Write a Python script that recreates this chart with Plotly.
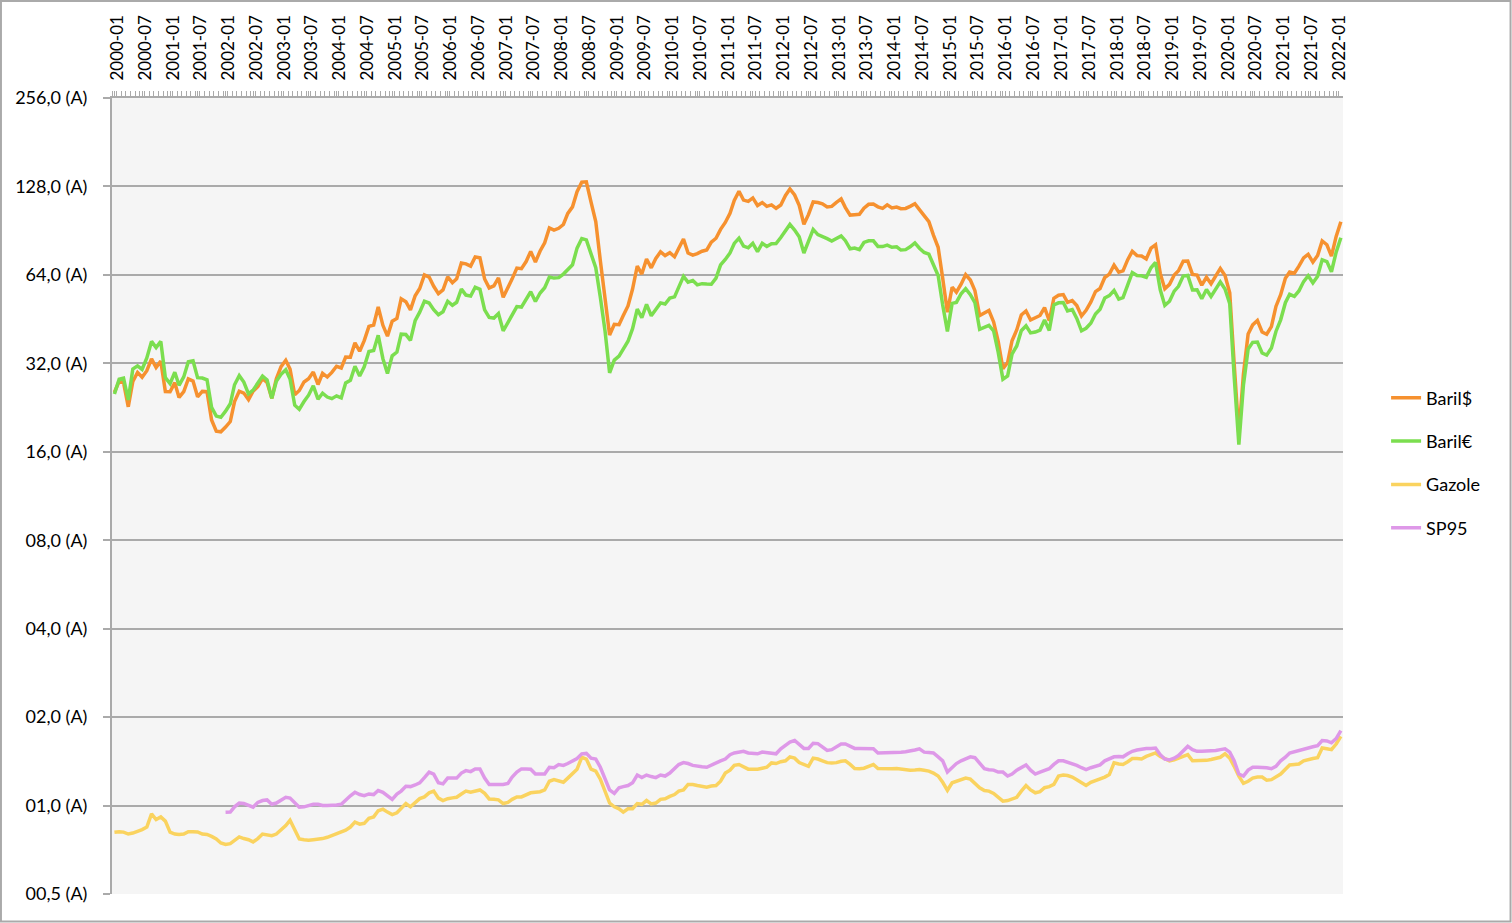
import pandas as pd
import plotly.graph_objects as go

# Monthly categories 2000-01 .. 2022-02
months = pd.date_range("2000-01-01", periods=266, freq="MS")

baril_usd = [
    25.51, 27.78, 27.49, 22.76, 27.74, 29.80, 28.68, 30.20, 33.14, 30.96, 32.55, 25.66,
    25.62, 27.50, 24.50, 25.66, 28.31, 27.85, 24.61, 25.68, 25.62, 20.54, 18.80, 18.71,
    19.42, 20.28, 23.70, 25.73, 25.35, 24.08, 25.74, 26.65, 28.40, 27.54, 24.34, 28.33,
    31.18, 32.77, 30.61, 25.00, 25.86, 27.65, 28.35, 29.89, 27.11, 29.61, 28.75, 29.81,
    31.28, 30.86, 33.63, 33.59, 37.57, 35.18, 38.22, 42.74, 43.20, 49.78, 43.11, 39.60,
    44.51, 45.48, 53.10, 51.88, 48.65, 54.35, 57.52, 63.98, 62.91, 58.54, 55.24, 56.86,
    62.99, 60.21, 62.06, 70.26, 69.78, 68.56, 73.67, 73.23, 61.96, 57.81, 58.76, 62.47,
    53.68, 57.56, 62.05, 67.49, 67.21, 71.05, 76.93, 70.76, 77.17, 82.34, 92.41, 90.93,
    92.18, 94.99, 103.64, 109.07, 122.80, 132.32, 132.72, 113.24, 97.23, 71.58, 52.45, 39.95,
    43.44, 43.32, 46.54, 50.18, 57.30, 68.61, 64.44, 72.51, 67.65, 72.77, 76.66, 74.46,
    76.17, 73.75, 78.83, 84.82, 75.95, 74.76, 75.58, 77.04, 77.84, 82.67, 85.28, 91.45,
    96.52, 103.72, 114.64, 123.26, 114.99, 113.83, 116.97, 110.22, 112.83, 109.55, 110.77, 107.87,
    110.69, 119.33, 125.45, 119.75, 110.34, 95.16, 102.62, 113.36, 112.86, 111.71, 109.06, 109.49,
    112.96, 116.05, 108.47, 102.25, 102.56, 102.92, 107.93, 111.28, 111.60, 109.08, 107.79, 110.76,
    108.12, 108.90, 107.48, 107.76, 109.54, 111.80, 106.77, 101.61, 97.09, 87.43, 79.44, 62.34,
    47.76, 58.10, 55.89, 59.52, 64.08, 61.48, 56.56, 46.52, 47.62, 48.43, 44.27, 38.01,
    30.70, 32.18, 38.21, 41.58, 46.74, 48.25, 44.95, 45.84, 46.57, 49.52, 44.73, 53.31,
    54.58, 54.87, 51.59, 52.31, 50.33, 46.37, 48.48, 51.70, 56.15, 57.51, 62.71, 64.37,
    69.08, 65.32, 66.02, 72.11, 76.98, 74.41, 74.25, 72.53, 78.89, 81.03, 64.75, 57.36,
    59.41, 63.96, 66.14, 71.23, 71.32, 64.22, 63.92, 59.04, 62.83, 59.71, 63.21, 67.31,
    63.65, 55.66, 32.01, 18.38, 29.38, 40.27, 43.24, 44.74, 40.91, 40.19, 42.69, 49.99,
    54.77, 62.28, 65.41, 64.81, 68.53, 73.16, 75.17, 70.75, 74.49, 83.54, 81.05, 74.17,
    86.51, 97.13,
]

baril_eur = [
    25.16, 28.25, 28.51, 24.03, 30.62, 31.39, 30.52, 33.40, 38.00, 36.20, 38.01, 28.60,
    27.30, 29.84, 26.94, 28.77, 32.38, 32.64, 28.59, 28.52, 28.12, 22.67, 21.16, 20.97,
    21.99, 23.31, 27.06, 29.05, 27.64, 25.20, 25.94, 27.26, 28.96, 28.07, 24.31, 27.82,
    29.35, 30.42, 28.32, 23.05, 22.33, 23.71, 24.93, 26.83, 24.16, 25.32, 24.57, 24.26,
    24.80, 24.40, 27.43, 28.03, 31.29, 28.98, 31.16, 35.10, 35.36, 39.86, 33.18, 29.53,
    33.93, 34.95, 40.22, 40.10, 38.33, 44.68, 47.79, 52.05, 51.33, 48.72, 46.87, 47.96,
    52.05, 50.44, 51.63, 57.26, 54.64, 54.20, 58.08, 57.16, 48.68, 45.84, 45.62, 47.28,
    41.30, 44.03, 46.86, 49.93, 49.74, 52.95, 56.09, 51.95, 55.53, 57.88, 62.93, 62.41,
    62.63, 64.41, 66.75, 69.25, 78.94, 85.08, 84.16, 75.62, 67.66, 53.73, 41.20, 29.70,
    32.81, 33.88, 35.66, 38.04, 41.98, 48.95, 45.74, 50.82, 46.46, 49.12, 51.40, 50.95,
    53.37, 53.89, 58.10, 63.27, 60.45, 61.23, 59.19, 59.75, 59.57, 59.48, 62.43, 69.18,
    72.25, 75.99, 81.89, 85.35, 80.14, 79.11, 82.00, 76.85, 81.94, 79.93, 81.71, 81.85,
    85.77, 90.24, 95.03, 90.98, 86.28, 75.97, 83.51, 91.42, 87.79, 86.10, 85.02, 83.46,
    85.01, 86.87, 83.67, 78.50, 79.00, 78.03, 82.52, 83.61, 83.61, 80.00, 79.89, 80.82,
    79.44, 79.73, 77.75, 78.01, 79.77, 82.25, 78.86, 76.31, 75.26, 68.99, 63.69, 50.55,
    41.10, 51.19, 51.57, 55.22, 57.47, 54.83, 51.44, 41.76, 42.44, 43.11, 41.24, 34.95,
    28.27, 29.01, 34.42, 36.67, 41.32, 42.97, 40.61, 40.88, 41.54, 44.91, 41.42, 50.56,
    51.42, 51.56, 48.28, 48.78, 45.51, 41.30, 42.12, 43.79, 47.13, 48.92, 53.42, 54.39,
    56.62, 52.90, 53.52, 58.74, 65.17, 63.72, 63.54, 62.80, 67.66, 70.56, 56.96, 50.39,
    52.04, 56.35, 58.52, 63.38, 63.76, 56.87, 56.98, 53.07, 57.10, 54.02, 57.20, 60.57,
    57.34, 51.04, 28.93, 16.92, 26.95, 35.78, 37.72, 37.83, 34.69, 34.13, 36.06, 41.08,
    45.00, 51.48, 54.97, 54.10, 56.42, 60.73, 63.58, 60.10, 63.29, 72.01, 71.01, 65.61,
    76.46, 85.64,
]

gazole = [
    0.811, 0.815, 0.812, 0.800, 0.806, 0.815, 0.828, 0.845, 0.937, 0.896, 0.915, 0.885,
    0.812, 0.800, 0.797, 0.800, 0.815, 0.815, 0.813, 0.800, 0.797, 0.785, 0.770, 0.746,
    0.737, 0.742, 0.760, 0.782, 0.772, 0.765, 0.752, 0.772, 0.800, 0.795, 0.790, 0.800,
    0.825, 0.855, 0.891, 0.830, 0.770, 0.765, 0.762, 0.765, 0.768, 0.772, 0.780, 0.790,
    0.800, 0.811, 0.825, 0.845, 0.878, 0.864, 0.870, 0.905, 0.915, 0.960, 0.972, 0.950,
    0.932, 0.945, 0.976, 1.016, 0.990, 1.020, 1.056, 1.070, 1.105, 1.120, 1.060, 1.040,
    1.055, 1.062, 1.067, 1.095, 1.120, 1.110, 1.120, 1.130, 1.100, 1.053, 1.050, 1.046,
    1.016, 1.025, 1.050, 1.070, 1.070, 1.090, 1.105, 1.110, 1.115, 1.130, 1.210, 1.225,
    1.210, 1.200, 1.240, 1.290, 1.330, 1.460, 1.440, 1.330, 1.310, 1.230, 1.120, 1.020,
    0.990, 0.975, 0.950, 0.975, 0.975, 1.016, 1.010, 1.040, 1.013, 1.020, 1.050, 1.055,
    1.075, 1.090, 1.120, 1.130, 1.180, 1.180, 1.170, 1.160, 1.155, 1.165, 1.170, 1.210,
    1.290, 1.320, 1.370, 1.379, 1.350, 1.330, 1.330, 1.330, 1.340, 1.350, 1.397, 1.390,
    1.410, 1.420, 1.465, 1.450, 1.400, 1.379, 1.360, 1.450, 1.440, 1.420, 1.400, 1.395,
    1.400, 1.415, 1.420, 1.380, 1.336, 1.335, 1.340, 1.360, 1.379, 1.336, 1.333, 1.335,
    1.335, 1.336, 1.330, 1.325, 1.320, 1.322, 1.326, 1.318, 1.310, 1.290, 1.260, 1.200,
    1.127, 1.195, 1.210, 1.225, 1.240, 1.230, 1.190, 1.150, 1.125, 1.120, 1.100, 1.070,
    1.035, 1.040, 1.050, 1.067, 1.120, 1.170, 1.130, 1.105, 1.115, 1.150, 1.160, 1.180,
    1.260, 1.270, 1.265, 1.250, 1.225, 1.200, 1.170, 1.200, 1.215, 1.230, 1.250, 1.275,
    1.397, 1.385, 1.380, 1.410, 1.446, 1.445, 1.440, 1.470, 1.490, 1.510, 1.470, 1.450,
    1.420, 1.430, 1.446, 1.470, 1.490, 1.420, 1.420, 1.420, 1.425, 1.435, 1.445, 1.460,
    1.500, 1.450, 1.360, 1.260, 1.190, 1.210, 1.240, 1.250, 1.250, 1.220, 1.225, 1.250,
    1.280, 1.330, 1.375, 1.380, 1.385, 1.420, 1.435, 1.446, 1.455, 1.570, 1.560, 1.550,
    1.620, 1.720,
]

sp95 = [
    None, None, None, None, None, None, None, None, None, None, None, None,
    None, None, None, None, None, None, None, None, None, None, None, None,
    0.949, 0.950, 0.990, 1.020, 1.017, 1.000, 0.987, 1.025, 1.040, 1.045, 1.010, 1.020,
    1.045, 1.067, 1.060, 1.020, 0.987, 0.990, 1.000, 1.010, 1.010, 1.000, 1.000, 1.000,
    1.005, 1.010, 1.045, 1.080, 1.110, 1.090, 1.080, 1.095, 1.090, 1.125, 1.110, 1.080,
    1.050, 1.095, 1.120, 1.163, 1.160, 1.175, 1.195, 1.245, 1.300, 1.280, 1.195, 1.185,
    1.240, 1.240, 1.240, 1.290, 1.315, 1.305, 1.333, 1.333, 1.240, 1.179, 1.179, 1.179,
    1.180, 1.190, 1.250, 1.300, 1.333, 1.333, 1.330, 1.280, 1.280, 1.280, 1.350, 1.345,
    1.379, 1.370, 1.390, 1.420, 1.446, 1.500, 1.505, 1.450, 1.440, 1.350, 1.240, 1.130,
    1.100, 1.150, 1.160, 1.170, 1.195, 1.270, 1.245, 1.270, 1.255, 1.245, 1.270, 1.260,
    1.290, 1.330, 1.379, 1.400, 1.390, 1.370, 1.360, 1.355, 1.350, 1.375, 1.400, 1.420,
    1.440, 1.490, 1.510, 1.525, 1.530, 1.510, 1.500, 1.500, 1.520, 1.515, 1.500, 1.500,
    1.560, 1.600, 1.645, 1.665, 1.620, 1.565, 1.565, 1.630, 1.625, 1.580, 1.540, 1.550,
    1.580, 1.620, 1.620, 1.590, 1.565, 1.565, 1.565, 1.565, 1.560, 1.510, 1.510, 1.515,
    1.515, 1.515, 1.520, 1.525, 1.530, 1.545, 1.560, 1.520, 1.515, 1.510, 1.465, 1.420,
    1.300, 1.345, 1.390, 1.420, 1.445, 1.465, 1.455, 1.400, 1.335, 1.325, 1.320, 1.300,
    1.300, 1.260, 1.280, 1.320, 1.345, 1.375, 1.320, 1.280, 1.300, 1.320, 1.335, 1.380,
    1.420, 1.420, 1.405, 1.390, 1.370, 1.345, 1.326, 1.345, 1.360, 1.375, 1.420, 1.445,
    1.465, 1.470, 1.465, 1.500, 1.530, 1.545, 1.560, 1.565, 1.565, 1.570, 1.490, 1.440,
    1.430, 1.450, 1.480, 1.530, 1.590, 1.550, 1.530, 1.530, 1.530, 1.535, 1.540, 1.550,
    1.560, 1.520, 1.420, 1.280, 1.260, 1.320, 1.350, 1.350, 1.350, 1.345, 1.335, 1.360,
    1.420, 1.460, 1.510, 1.525, 1.540, 1.560, 1.580, 1.585, 1.600, 1.665, 1.660, 1.635,
    1.690, 1.800,
]

y_tickvals = [0.5, 1, 2, 4, 8, 16, 32, 64, 128, 256]
y_ticktext = ["00,5 (A)", "01,0 (A)", "02,0 (A)", "04,0 (A)", "08,0 (A)",
              "16,0 (A)", "32,0 (A)", "64,0 (A)", "128,0 (A)", "256,0 (A)"]

series = [
    ("Baril$", baril_usd, "#F6912F"),
    ("Baril€", baril_eur, "#7BDE4F"),
    ("Gazole", gazole, "#FAD35F"),
    ("SP95", sp95, "#DE98E8"),
]

FONT = "Lato"
FS = 18
GRID = "#AAAAAA"

fig = go.Figure()
for name, vals, col in series:
    fig.add_trace(go.Scatter(
        x=months, y=vals, name=name, mode="lines",
        line=dict(color=col, width=3.5), legendgroup=name,
        connectgaps=False,
    ))

fig.update_layout(
    width=1512, height=923,
    margin=dict(l=112, r=169, t=98, b=29),
    paper_bgcolor="white",
    plot_bgcolor="#F5F5F5",
    font=dict(family=FONT, size=FS, color="black"),
    showlegend=True,
    legend=dict(
        x=1.035, xanchor="left", y=0.5415, yanchor="middle",
        font=dict(family=FONT, size=FS, color="black"),
        traceorder="grouped", tracegroupgap=17,
        bgcolor="rgba(0,0,0,0)",
    ),
    xaxis=dict(
        type="date", side="top",
        range=["1999-12-16", "2022-02-15"],
        tick0="2000-01-01", dtick="M6", tickformat="%Y-%m",
        tickangle=-90, ticks="outside", ticklen=5, tickcolor=GRID, tickwidth=1,
        showline=True, linecolor=GRID, linewidth=2,
        showgrid=False, zeroline=False,
        tickfont=dict(family=FONT, size=17, color="black"),
        ticklabelstandoff=7, ticklabelshift=3,
        minor=dict(ticks="outside", ticklen=5, tickcolor=GRID, tickwidth=1,
                   dtick="M1", tick0="1999-12-16", showgrid=False),
    ),
    yaxis=dict(
        type="log",
        range=[-0.30103, 2.40824],
        tickvals=y_tickvals, ticktext=y_ticktext,
        ticks="outside", ticklen=7, tickcolor=GRID, tickwidth=2,
        showline=True, linecolor=GRID, linewidth=2,
        showgrid=True, gridcolor=GRID, gridwidth=2,
        zeroline=False,
        tickfont=dict(family=FONT, size=FS, color="black"),
        ticklabelstandoff=12,
    ),
    shapes=[dict(
        type="rect", xref="paper", yref="paper",
        x0=-0.0902, x1=1.1361, y0=-0.0345, y1=1.1218,
        line=dict(color=GRID, width=2), fillcolor="rgba(0,0,0,0)",
    )],
)

fig.write_html(
    "out.html",
    config={"displayModeBar": False},
    post_script="document.body.style.margin='0';document.body.style.overflow='hidden';",
)
